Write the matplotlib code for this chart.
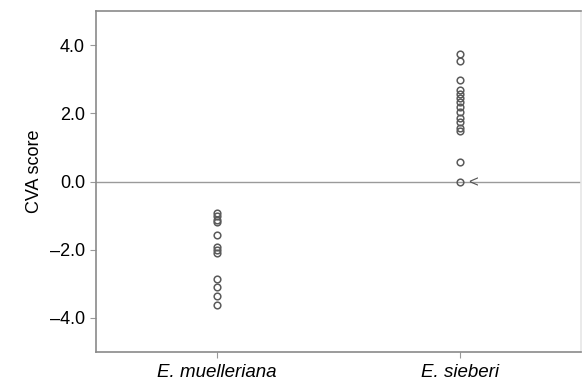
import matplotlib
matplotlib.use('Agg')
import matplotlib.pyplot as plt
from matplotlib.ticker import FuncFormatter

plt.rcParams['font.family'] = ['Liberation Sans', 'DejaVu Sans']

species = ['E. muelleriana', 'E. sieberi']
muelleriana = [-0.92, -1.02, -1.12, -1.2, -1.58, -1.92, -2.02, -2.1,
               -2.85, -3.11, -3.37, -3.62]
sieberi = [3.73, 3.54, 2.97, 2.68, 2.57, 2.46, 2.34, 2.19, 2.03, 1.87,
           1.74, 1.57, 1.47, 0.56, 0.0]
yticks = [-4.0, -2.0, 0.0, 2.0, 4.0]

fig = plt.figure(figsize=(5.82, 3.85), dpi=100)
ax = fig.add_axes([0.165, 0.086, 0.833, 0.885])

ax.axhline(0, color='#9a9a9a', lw=1, zorder=1)
for i, vals in enumerate([muelleriana, sieberi]):
    ax.plot([i + 1] * len(vals), vals, 'o', ms=4.8, mfc='none',
            mec='#5a5a5a', mew=1.1, zorder=3)

# outlier marker next to the zero point
ax.annotate('<', (2, sieberi[-1]), xytext=(6, -1), textcoords='offset points',
            ha='left', va='center', fontsize=12, color='#555555')

def fmt(v, pos):
    s = '%.1f' % abs(v)
    return ('\u2013' + s) if v < 0 else s

ax.set_xlim(0.5, 2.5)
ax.set_ylim(-5, 5)
ax.set_xticks([1, 2])
ax.set_xticklabels(species, style='italic', fontsize=13.5)
ax.set_yticks(yticks)
ax.yaxis.set_major_formatter(FuncFormatter(fmt))
ax.tick_params(axis='y', labelsize=13, length=4, color='#999999', pad=4)
ax.tick_params(axis='x', length=4, color='#999999', pad=5)
ax.set_ylabel('CVA score', fontsize=13)
ax.yaxis.set_label_coords(-0.11, 0.53)

for s in ax.spines.values():
    s.set_color('#8a8a8a')
    s.set_linewidth(1.2)
ax.spines['right'].set_color('#e6e6e6')

fig.savefig('out.png', dpi=100)
